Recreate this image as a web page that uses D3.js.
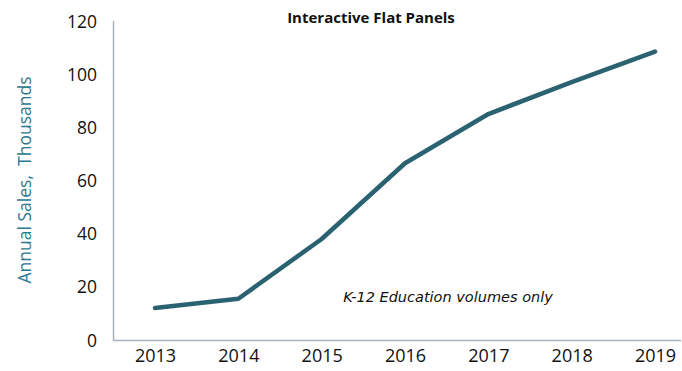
<!DOCTYPE html>
<html>
<head>
<meta charset="utf-8">
<script src="https://cdn.jsdelivr.net/npm/d3@7"></script>
<style>
  html, body { margin: 0; padding: 0; background: #fff; }
  svg { display: block; }
</style>
</head>
<body>
<svg id="chart" width="682" height="371"></svg>
<script>
const years = ["2013", "2014", "2015", "2016", "2017", "2018", "2019"];
const sales = [12, 15.5, 38, 66.5, 85, 97, 108.5];
const yTicks = [0, 20, 40, 60, 80, 100, 120];
const titleText = "Interactive Flat Panels";
const yAxisTitle = "Annual Sales,  Thousands";
const noteText = "K-12 Education volumes only";

const svg = d3.select("#chart");
const x = d3.scalePoint().domain(years).range([155, 655]);
const y = d3.scaleLinear().domain([0, 120]).range([340, 21]);

const axisColor = "#a3b4bd";
const lineColor = "#2a6272";

// axes lines
svg.append("line").attr("x1", 113.5).attr("x2", 113.5).attr("y1", y(120)).attr("y2", y(0) + 0.5)
  .attr("stroke", axisColor).attr("stroke-width", 1.5);
svg.append("line").attr("x1", 113).attr("x2", 681).attr("y1", y(0) + 0.5).attr("y2", y(0) + 0.5)
  .attr("stroke", axisColor).attr("stroke-width", 1.5);

// y tick labels
const yAxis = d3.axisLeft(y).tickValues(yTicks).tickSize(0).tickPadding(0);
const gy = svg.append("g").attr("transform", "translate(97,0)").call(yAxis);
gy.select(".domain").remove();
gy.selectAll("text").attr("font-family", "'Open Sans', sans-serif").attr("font-size", 17.5)
  .attr("fill", "#111").attr("dy", "0.35em");

// x tick labels
const xAxis = d3.axisBottom(x).tickSize(0).tickPadding(0);
const gx = svg.append("g").attr("transform", "translate(0,349)").call(xAxis);
gx.select(".domain").remove();
gx.selectAll("text").attr("font-family", "'Open Sans', sans-serif").attr("font-size", 18)
  .attr("fill", "#111").attr("dy", "0.71em");

// line
const line = d3.line().x((d, i) => x(years[i])).y(d => y(d));
svg.append("path").datum(sales).attr("d", line)
  .attr("fill", "none").attr("stroke", lineColor).attr("stroke-width", 4.5)
  .attr("stroke-linejoin", "round").attr("stroke-linecap", "round");

// title
svg.append("text").attr("x", 371).attr("y", 23).attr("text-anchor", "middle")
  .attr("font-family", "'Open Sans', sans-serif").attr("font-weight", "bold").attr("font-size", 15)
  .attr("fill", "#111").text(titleText);

// y axis title
svg.append("text").attr("transform", "translate(31,180) rotate(-90)").attr("text-anchor", "middle")
  .attr("font-family", "'Open Sans', sans-serif").attr("font-size", 17.5)
  .attr("fill", "#2a7891").style("white-space", "pre").text(yAxisTitle);

// annotation
svg.append("text").attr("x", 448).attr("y", 302).attr("text-anchor", "middle")
  .attr("font-family", "'DejaVu Sans', sans-serif").attr("font-style", "italic").attr("font-size", 14.5)
  .attr("fill", "#111").text(noteText);
</script>
</body>
</html>
